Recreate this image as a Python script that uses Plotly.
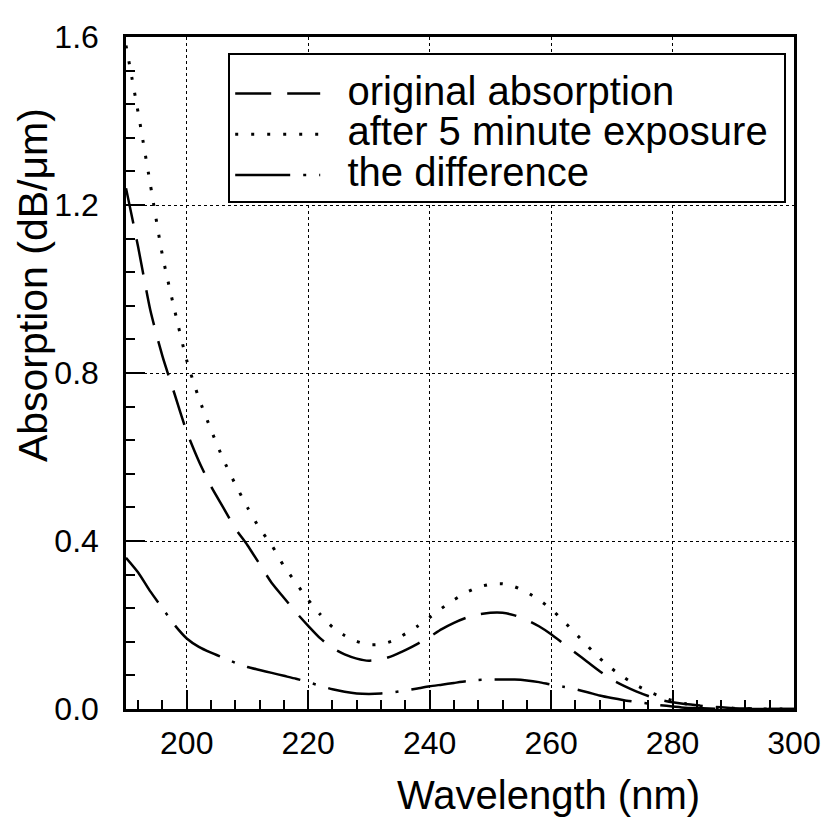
import plotly.graph_objects as go

wavelength = [190, 192, 194, 196, 198, 200, 202, 204, 206, 208, 210, 212, 214, 216, 218, 220,
              222, 224, 226, 228, 230, 232, 234, 236, 238, 240, 242, 244, 246, 248, 250, 252,
              254, 256, 258, 260, 262, 264, 266, 268, 270, 272, 274, 276, 278, 280, 282, 284,
              286, 288, 290, 292, 294, 296, 298, 300]

original = [1.24, 1.10, 0.95, 0.84, 0.75, 0.66, 0.59, 0.53, 0.48, 0.43, 0.39, 0.345, 0.30, 0.265, 0.23, 0.198,
            0.168, 0.145, 0.13, 0.12, 0.115, 0.118, 0.127, 0.14, 0.155, 0.172, 0.19, 0.205, 0.217, 0.225, 0.229, 0.229,
            0.223, 0.212, 0.197, 0.178, 0.156, 0.134, 0.112, 0.09, 0.07, 0.055, 0.042, 0.031, 0.022, 0.016, 0.012, 0.009,
            0.006, 0.004, 0.002, 0.001, 0.001, 0.0, 0.0, 0.0]

after = [1.58, 1.42, 1.25, 1.08, 0.95, 0.83, 0.74, 0.665, 0.595, 0.535, 0.48, 0.43, 0.39, 0.34, 0.30, 0.26,
         0.225, 0.195, 0.175, 0.161, 0.153, 0.154, 0.163, 0.179, 0.197, 0.218, 0.24, 0.26, 0.277, 0.29, 0.297, 0.298,
         0.291, 0.278, 0.26, 0.238, 0.21, 0.18, 0.15, 0.121, 0.096, 0.075, 0.057, 0.042, 0.03, 0.02, 0.013, 0.008,
         0.005, 0.003, 0.002, 0.001, 0.0, 0.0, 0.0, 0.0]

difference = [0.36, 0.325, 0.28, 0.24, 0.20, 0.168, 0.148, 0.134, 0.122, 0.11, 0.10, 0.093, 0.086, 0.079, 0.072, 0.064,
              0.055, 0.047, 0.041, 0.037, 0.036, 0.037, 0.04, 0.044, 0.049, 0.054, 0.058, 0.062, 0.066, 0.069, 0.07, 0.07,
              0.07, 0.068, 0.064, 0.058, 0.053, 0.047, 0.04, 0.032, 0.026, 0.021, 0.017, 0.013, 0.009, 0.006, 0.003, 0.002,
              0.001, 0.0, 0.0, 0.0, 0.0, 0.0, 0.0, 0.0]

series_names = ["original absorption", "after 5 minute exposure", "the difference"]
x_title = "Wavelength (nm)"
y_title = "Absorption (dB/\u03bcm)"

FONT = "Liberation Sans, Arial, sans-serif"
NB = "\u00a0\u00a0"


def legend_label(s):
    return '<span style="font-size:40px">' + NB + s + "\u00a0</span>"


fig = go.Figure()
fig.add_trace(go.Scatter(x=wavelength, y=original, name=legend_label(series_names[0]), mode="lines",
                         line=dict(color="black", width=2.5, dash="36px,16px", shape="spline", smoothing=0.6)))
fig.add_trace(go.Scatter(x=wavelength, y=after, name=legend_label(series_names[1]), mode="lines",
                         line=dict(color="black", width=3, dash="3px,13px", shape="spline", smoothing=0.6)))
fig.add_trace(go.Scatter(x=wavelength, y=difference, name=legend_label(series_names[2]), mode="lines",
                         line=dict(color="black", width=2.5, dash="55px,13px,3px,13px", shape="spline", smoothing=0.6)))

fig.update_layout(
    width=830, height=838,
    margin=dict(l=118, r=44, t=29, b=137),
    paper_bgcolor="white", plot_bgcolor="white",
    font=dict(family=FONT, size=32, color="black"),
    showlegend=True,
    legend=dict(x=0.153, y=0.976, xanchor="left", yanchor="top",
                bordercolor="black", borderwidth=2, bgcolor="white",
                font=dict(size=29), itemwidth=85, tracegroupgap=0,
                title=dict(text="\u00a0", font=dict(size=10))),
    annotations=[
        dict(text=x_title, xref="paper", yref="paper", x=0.632, y=-0.128,
             xanchor="center", yanchor="middle", showarrow=False, font=dict(size=40)),
        dict(text=y_title, xref="paper", yref="paper", x=-0.139, y=0.631,
             xanchor="center", yanchor="middle", showarrow=False, textangle=-90, font=dict(size=41)),
    ],
)
fig.update_xaxes(
    range=[190, 300], tickmode="linear", tick0=200, dtick=20,
    ticks="inside", ticklen=19, tickwidth=2, tickcolor="black",
    minor=dict(ticks="inside", ticklen=9, tickwidth=1.5, tickcolor="black", dtick=4, tick0=200, showgrid=False),
    showline=True, linewidth=2.5, linecolor="black", mirror=True,
    showgrid=True, gridcolor="black", gridwidth=1, griddash="dot",
    zeroline=False, ticklabelstandoff=4,
)
fig.update_yaxes(
    range=[0, 1.6], tickmode="linear", tick0=0, dtick=0.4, tickformat=".1f",
    ticks="inside", ticklen=19, tickwidth=2, tickcolor="black",
    minor=dict(ticks="inside", ticklen=9, tickwidth=1.5, tickcolor="black", dtick=0.08, tick0=0, showgrid=False),
    showline=True, linewidth=2.5, linecolor="black", mirror=True,
    showgrid=True, gridcolor="black", gridwidth=1, griddash="dot",
    zeroline=False, ticklabelstandoff=18,
)

fig.write_html("out.html")
